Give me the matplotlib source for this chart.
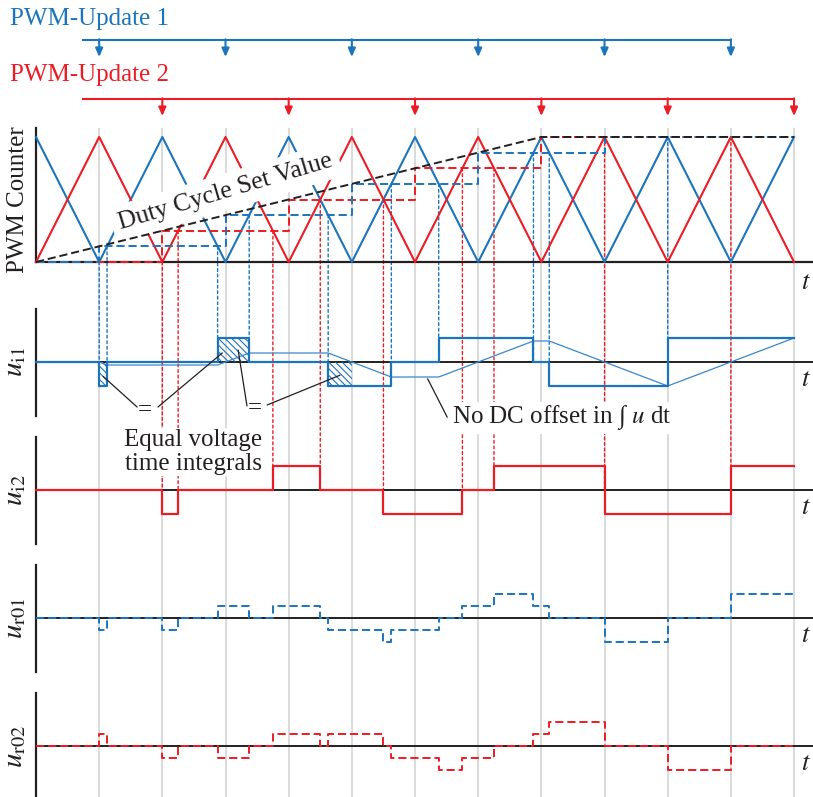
import numpy as np
import matplotlib
matplotlib.use('Agg')
import matplotlib.pyplot as plt
from matplotlib.patches import ConnectionPatch

plt.rcParams['font.family'] = ['Liberation Serif', 'DejaVu Serif']
plt.rcParams['mathtext.fontset'] = 'stix'
plt.rcParams['hatch.linewidth'] = 0.8

BLUE = '#1c75bc'
BLUE_THIN = '#3a87cb'
RED = '#ed1c24'
GRAY = '#d4d4d4'
INK = '#231f20'

# --- data (time in half carrier periods) ---
t_vertex = list(range(13))
carrier1 = [1, 0, 1, 0, 1, 0, 1, 0, 1, 0, 1, 0, 1]
carrier2 = [0, 1, 0, 1, 0, 1, 0, 1, 0, 1, 0, 1, 0]
update1_t = [1, 3, 5, 7, 9, 11]
update2_t = [2, 4, 6, 8, 10, 12]
duty_t = [0, 8, 12]
duty_val = [0, 1, 1]
held1_t = [0, 1, 3, 5, 7, 9, 12]
held1_val = [0, 0.125, 0.375, 0.625, 0.875, 1, 1]
held2_t = [0, 2, 4, 6, 8, 12]
held2_val = [0, 0.25, 0.5, 0.75, 1, 1]
ui1_t = [0, 1, 1.125, 2.875, 3.375, 4.625, 5.625, 6.375, 7.875, 8.125, 10, 12]
ui1_val = [0, -1, 0, 1, 0, -1, 0, 1, 0, -1, 1, 1]
ui2_t = [0, 2, 2.25, 3.75, 4.5, 5.5, 6.75, 7.25, 9, 11, 12]
ui2_val = [0, -1, 0, 1, 0, -1, 0, 1, -1, 1, 1]
hatch_t0 = [1, 2.875, 4.625]
hatch_t1 = [1.125, 3.375, 5]
hatch_val = [-1, 1, -1]


def step_at(tq, ts, vs):
    idx = np.searchsorted(ts, tq, side='right') - 1
    return np.array(vs, dtype=float)[np.clip(idx, 0, len(vs) - 1)]


t_all = np.array(sorted(set(ui1_t) | set(ui2_t)))
u1 = step_at(t_all, ui1_t, ui1_val)
u2 = step_at(t_all, ui2_t, ui2_val)
ur01 = (u1 + u2) / 2
ur02 = (u2 - u1) / 2
integ = np.concatenate([[0], np.cumsum(np.diff(ui1_t) * np.array(ui1_val[:-1]))])

# --- layout (pixels) ---
W, H = 813, 797
PX_T = 63.17
X0 = -36 / PX_T
X1 = (W - 36) / PX_T
DASH = (4.2, 2.0)

fig = plt.figure(figsize=(W / 100, H / 100), dpi=100)


def px_axes(top, bottom, zero, unit, z=1):
    ax = fig.add_axes([0, 1 - bottom / H, 1, (bottom - top) / H])
    ax.set_xlim(X0, X1)
    ax.set_ylim((zero - bottom) / unit, (zero - top) / unit)
    ax.axis('off')
    ax.patch.set_visible(False)
    ax.set_zorder(z)
    return ax


ax_bg = px_axes(0, H, H, 1, z=0)
ax_bg.vlines(t_vertex[1:], 0, H - 128, color=GRAY, lw=1.2)

# update markers
ax_upd = px_axes(0, 125, 125, 1)
ax_upd.text(X0 + 10 / PX_T, 125 - 24.5, 'PWM-Update 1', color=BLUE, fontsize=18, va='baseline')
ax_upd.text(X0 + 10 / PX_T, 125 - 81, 'PWM-Update 2', color=RED, fontsize=18, va='baseline')
for ts, col, ytop in [(update1_t, BLUE, 85), (update2_t, RED, 26)]:
    ax_upd.plot([0.74, ts[-1]], [ytop, ytop], color=col, lw=1.5)
    for t in ts:
        ax_upd.annotate('', xy=(t, ytop - 17), xytext=(t, ytop + 0.7),
                        arrowprops=dict(arrowstyle='-|>,head_length=0.5,head_width=0.22',
                                        color=col, lw=1.5, shrinkA=0, shrinkB=0))

# PWM counter panel
ax_pwm = px_axes(125, 292, 262, 125)
ax_pwm.plot([0, X1], [0, 0], color=INK, lw=1.6, zorder=1)
ax_pwm.plot([0, 0], [0, 1.07], color=INK, lw=1.6, zorder=1)
ax_pwm.plot(t_vertex, carrier1, color=BLUE, lw=1.5, zorder=2)
ax_pwm.plot(t_vertex, carrier2, color=RED, lw=1.5, zorder=2)
ax_pwm.step(held2_t, held2_val, where='post', color=RED, lw=1.4, dashes=DASH, zorder=4)
ax_pwm.step(held1_t, held1_val, where='post', color=BLUE, lw=1.4, dashes=DASH, zorder=4)
ax_pwm.plot(duty_t, duty_val, color=INK, lw=1.4, dashes=DASH, zorder=5)
ax_pwm.text(3.0, 0.56, 'Duty Cycle Set Value', fontsize=18.5, color=INK, rotation=16.5,
            rotation_mode='anchor', ha='center', va='center', zorder=3,
            bbox=dict(boxstyle='square,pad=0.28', fc='white', ec='none'))
ax_pwm.text(-0.285, 0.5, 'PWM Counter', fontsize=18, color=INK, rotation=90,
            ha='center', va='center')
ax_pwm.text(12.19, -0.17, '$t$', fontsize=19, color=INK, ha='center', va='center')

# voltage panels
panels = [
    (292, 430, 362, r'$u_{\mathrm{i1}}$'),
    (430, 555, 490, r'$u_{\mathrm{i2}}$'),
    (555, 682, 618, r'$u_{\mathrm{r01}}$'),
    (682, 797, 746, r'$u_{\mathrm{r02}}$'),
]
axs = []
for top, bottom, zero, lab in panels:
    ax = px_axes(top, bottom, zero, 24)
    ax.plot([0, X1], [0, 0], color=INK, lw=1.4, zorder=1)
    ax.plot([0, 0], [-2.25, 2.2], color=INK, lw=1.6, zorder=1)
    ax.text(-0.33, 0, lab, fontsize=21, color=INK, rotation=90, ha='center', va='center')
    ax.text(12.19, -0.75, '$t$', fontsize=19, color=INK, ha='center', va='center')
    axs.append(ax)
ax_ui1, ax_ui2, ax_r01, ax_r02 = axs

for a, b, v in zip(hatch_t0, hatch_t1, hatch_val):
    ax_ui1.fill_between([a, b], 0, v, facecolor='none', edgecolor=BLUE,
                        hatch='\\\\\\\\\\', linewidth=0, zorder=2)
ax_ui1.plot(ui1_t, integ, color=BLUE_THIN, lw=0.9, zorder=2.5)
ax_ui1.step(ui1_t, ui1_val, where='post', color=BLUE, lw=1.6, zorder=3)
ax_ui2.step(ui2_t, ui2_val, where='post', color=RED, lw=1.6, zorder=3)
ax_r01.step(t_all, ur01, where='post', color=BLUE, lw=1.4, dashes=DASH, zorder=3)
ax_r02.step(t_all, ur02, where='post', color=RED, lw=1.4, dashes=DASH, zorder=3)

# annotations in u_i1 panel
ax_ui1.text(1.725, -2.0, '=', fontsize=18, color=INK, ha='center', va='center')
ax_ui1.text(3.47, -1.92, '=', fontsize=18, color=INK, ha='center', va='center')
for (xa, ya), (xb, yb) in [((1.6, -1.875), (1.0625, -0.6)),
                           ((1.93, -1.875), (2.95, 0.38)),
                           ((3.34, -1.83), (3.2, 0.5)),
                           ((3.66, -1.79), (4.8125, -0.55)),
                           ((6.51, -2.3), (6.2, -0.7))]:
    ax_ui1.annotate('', xy=(xb, yb), xytext=(xa, ya),
                    arrowprops=dict(arrowstyle='-', color=INK, lw=0.9, shrinkA=0, shrinkB=0),
                    zorder=4)
ax_ui1.text(2.49, -3.75, 'Equal voltage\ntime integrals', fontsize=18, color=INK,
            ha='center', va='center', linespacing=1.1, zorder=5,
            bbox=dict(boxstyle='square,pad=0.05', fc='white', ec='none'))
ax_ui1.text(6.59, -2.33, r'No DC offset in ∫ $u$ dt', fontsize=18, color=INK,
            ha='left', va='center', zorder=5,
            bbox=dict(boxstyle='square,pad=0.05', fc='white', ec='none'))

# dotted switching guides from the counter to the bridge voltages
for ts, carrier, ax_to, col in [(ui1_t, carrier1, ax_ui1, BLUE), (ui2_t, carrier2, ax_ui2, RED)]:
    for t in ts[1:-1]:
        con = ConnectionPatch(xyA=(t, np.interp(t, t_vertex, carrier)), coordsA=ax_pwm.transData,
                              xyB=(t, 0), coordsB=ax_to.transData,
                              color=col, lw=1.0, linestyle=(0, (2, 2)), zorder=0.5)
        fig.add_artist(con)

fig.savefig('out.png', dpi=100)
